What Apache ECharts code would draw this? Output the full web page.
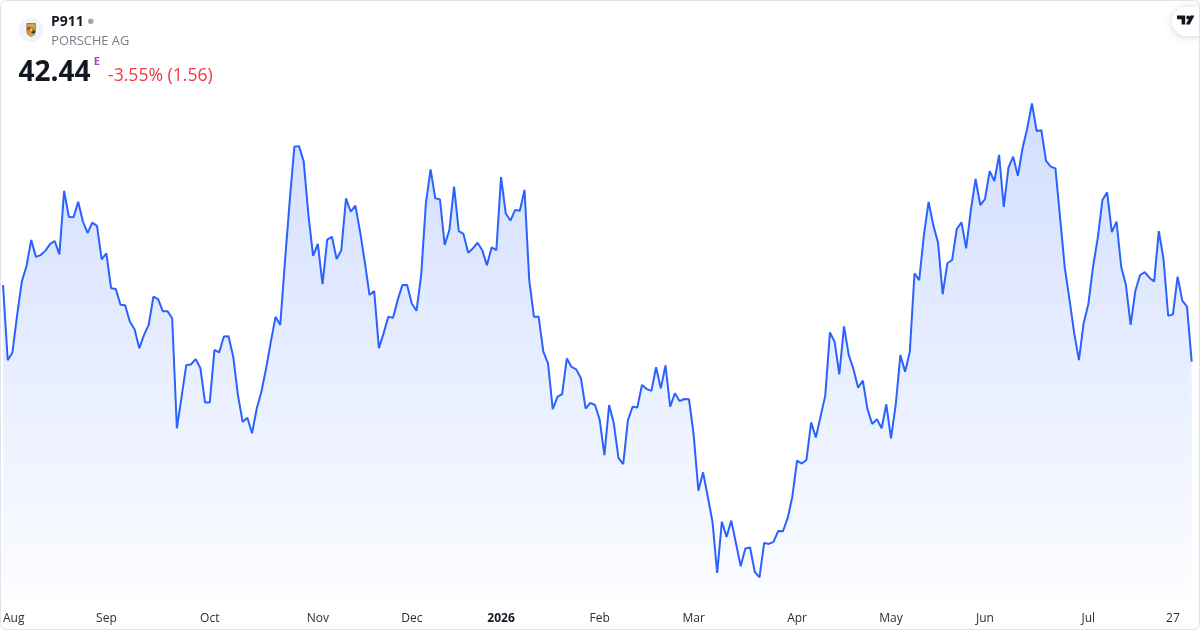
<!DOCTYPE html>
<html>
<head>
<meta charset="utf-8">
<script src="https://cdn.jsdelivr.net/npm/echarts@6/dist/echarts.min.js"></script>
<style>
  html, body { margin: 0; padding: 0; background: #ffffff; }
  #chart { width: 1200px; height: 630px; }
</style>
</head>
<body>
<div id="chart"></div>
<script>
// ---- Data ----
const symbol = 'P911';
const companyName = 'PORSCHE AG';
const lastPrice = '42.44';
const changeText = '-3.55% (1.56)';

// Trading-day calendar (Xetra): weekdays from 2025-07-31 to 2026-07-31 minus exchange holidays
const holidays = ['2025-12-24', '2025-12-25', '2025-12-26', '2025-12-31', '2026-01-01', '2026-04-03', '2026-04-06', '2026-05-01'];

// Tick labels on the time axis
const tickDates = ['2025-08-01', '2025-09-01', '2025-10-01', '2025-11-03', '2025-12-01', '2026-01-02', '2026-02-02', '2026-03-02', '2026-04-01', '2026-05-04', '2026-06-01', '2026-07-01', '2026-07-27'];
const tickTexts = ['Aug', 'Sep', 'Oct', 'Nov', 'Dec', '2026', 'Feb', 'Mar', 'Apr', 'May', 'Jun', 'Jul', '27'];

// Daily closing prices (EUR)
const prices = [
  44.61, 42.48, 42.70, 43.76, 44.71, 45.15, 45.89, 45.41, 45.46, 45.58,
  45.77, 45.86, 45.48, 47.28, 46.55, 46.53, 46.97, 46.41, 46.09, 46.38,
  46.29, 45.34, 45.51, 44.52, 44.50, 44.05, 44.04, 43.57, 43.36, 42.82,
  43.19, 43.48, 44.28, 44.21, 43.87, 43.87, 43.67, 40.55, 41.44, 42.34,
  42.36, 42.51, 42.26, 41.28, 41.28, 42.77, 42.70, 43.15, 43.16, 42.58,
  41.49, 40.73, 40.85, 40.41, 41.11, 41.59, 42.25, 43.00, 43.71, 43.48,
  45.27, 46.97, 48.53, 48.55, 48.11, 46.60, 45.44, 45.78, 44.64, 45.90,
  45.98, 45.35, 45.60, 47.07, 46.69, 46.86, 46.12, 45.27, 44.33, 44.44,
  42.82, 43.24, 43.71, 43.68, 44.19, 44.61, 44.61, 44.09, 43.88, 44.89,
  46.93, 47.89, 47.07, 47.04, 45.75, 46.17, 47.40, 46.14, 46.06, 45.53,
  45.65, 45.81, 45.60, 45.17, 45.68, 45.60, 47.67, 46.64, 46.44, 46.74,
  46.72, 47.31, 44.75, 43.71, 43.71, 42.72, 42.39, 41.09, 41.44, 41.52,
  42.53, 42.29, 42.22, 41.97, 41.11, 41.27, 41.21, 40.79, 39.79, 41.21,
  40.69, 39.70, 39.53, 40.78, 41.16, 41.14, 41.78, 41.66, 41.61, 42.28,
  41.68, 42.33, 41.16, 41.54, 41.32, 41.38, 41.37, 40.36, 38.78, 39.30,
  38.61, 37.90, 36.45, 37.90, 37.47, 37.93, 37.29, 36.64, 37.14, 37.17,
  36.48, 36.32, 37.30, 37.27, 37.33, 37.64, 37.63, 38.00, 38.61, 39.63,
  39.55, 39.65, 40.72, 40.29, 40.88, 41.47, 43.27, 43.00, 42.08, 43.44,
  42.63, 42.23, 41.70, 41.90, 41.09, 40.67, 40.81, 40.55, 41.23, 40.26,
  41.21, 42.63, 42.15, 42.72, 44.94, 44.75, 46.03, 46.97, 46.31, 45.82,
  44.35, 45.23, 45.32, 46.20, 46.39, 45.65, 46.74, 47.62, 46.88, 47.05,
  47.84, 47.56, 48.30, 46.83, 47.94, 48.25, 47.71, 48.49, 49.06, 49.76,
  48.98, 49.00, 48.13, 47.97, 47.92, 46.50, 45.09, 44.19, 43.24, 42.48,
  43.53, 44.07, 45.13, 45.94, 47.02, 47.24, 46.11, 46.41, 45.13, 44.61,
  43.48, 44.44, 44.89, 44.98, 44.82, 44.71, 46.14, 45.35, 43.74, 43.78,
  44.85, 44.17, 44.00, 42.44
];

// ---- Build trading dates (categories) ----
function buildDates() {
  const out = [];
  const d = new Date(Date.UTC(2025, 6, 31));
  const end = Date.UTC(2026, 6, 31);
  while (d.getTime() <= end) {
    const dow = d.getUTCDay();
    const iso = d.toISOString().slice(0, 10);
    if (dow !== 0 && dow !== 6 && holidays.indexOf(iso) === -1) out.push(iso);
    d.setUTCDate(d.getUTCDate() + 1);
  }
  return out;
}
const dates = buildDates();

const FONT = '"Open Sans", "Noto Sans", sans-serif';
const chart = echarts.init(document.getElementById('chart'), null, { renderer: 'canvas' });

const option = {
  backgroundColor: '#ffffff',
  animation: false,
  grid: { left: 2.3, right: 8.3, top: 95, bottom: 30 },
  xAxis: {
    type: 'category',
    data: dates,
    boundaryGap: false,
    axisLine: { show: false },
    axisTick: { show: false },
    splitLine: { show: false },
    axisLabel: {
      margin: 13,
      fontFamily: FONT,
      fontSize: 12,
      color: '#2a2e39',
      interval: function (index, value) { return tickDates.indexOf(value) !== -1; },
      formatter: function (value) {
        const k = tickDates.indexOf(value);
        const t = tickTexts[k];
        if (t === '2026') return '{b|' + t + '}';
        if (k === 0) return '{first|' + t + '}';
        return t;
      },
      rich: {
        b: { fontFamily: FONT, fontSize: 12, fontWeight: 'bold', color: '#131722' },
        first: { fontFamily: FONT, fontSize: 12, color: '#2a2e39', padding: [0, 0, 0, 12] }
      }
    }
  },
  yAxis: {
    type: 'value',
    show: false,
    min: 35.68,
    max: 50,
    splitLine: { show: false }
  },
  series: [{
    type: 'line',
    data: prices,
    showSymbol: false,
    symbol: 'none',
    lineStyle: { color: '#2962FF', width: 2 },
    itemStyle: { color: '#2962FF' },
    areaStyle: {
      color: new echarts.graphic.LinearGradient(0, 0, 0, 1, [
        { offset: 0, color: 'rgba(41, 98, 255, 0.30)' },
        { offset: 1, color: 'rgba(41, 98, 255, 0.02)' }
      ])
    }
  }],
  graphic: [
    // outer frame
    { type: 'rect', silent: true, z: 100,
      shape: { x: 0.5, y: 0.5, width: 1199, height: 629, r: 6 },
      style: { fill: 'none', stroke: '#e0e3eb', lineWidth: 1 } },
    // logo circle
    { type: 'circle', shape: { cx: 31, cy: 30, r: 12 }, style: { fill: '#f0f3fa' } },
    // crest (simplified shield)
    { type: 'polygon', shape: { points: [[26.8, 23.5], [35.4, 23.5], [35.4, 31], [34.6, 34.2], [31.1, 36.6], [27.6, 34.2], [26.8, 31]] },
      style: { fill: '#d4a63c', stroke: '#6b4a1a', lineWidth: 0.6 } },
    { type: 'rect', shape: { x: 27.4, y: 27.3, width: 3.4, height: 2.6 }, style: { fill: '#b8312f' } },
    { type: 'rect', shape: { x: 31.6, y: 30.4, width: 3.2, height: 2.8 }, style: { fill: '#2b2b2b' } },
    { type: 'rect', shape: { x: 29.4, y: 28.2, width: 3.4, height: 3.6 }, style: { fill: '#e9c25a', stroke: '#5a3a12', lineWidth: 0.4 } },
    // header texts
    { type: 'text', x: 51, y: 22, style: { text: symbol, font: 'bold 14px ' + FONT, fill: '#131722', verticalAlign: 'middle' } },
    { type: 'circle', shape: { cx: 90.8, cy: 21.3, r: 2.8 }, style: { fill: '#a3a6af' } },
    { type: 'text', x: 51.3, y: 41.5, style: { text: companyName, font: '12.8px ' + FONT, fill: '#787b86', verticalAlign: 'middle' } },
    { type: 'text', x: 18.5, y: 73, style: { text: lastPrice, font: 'bold 28px ' + FONT, fill: '#131722', verticalAlign: 'middle' } },
    { type: 'text', x: 93.8, y: 62, style: { text: 'E', font: 'bold 11px ' + FONT, fill: '#a742c0', verticalAlign: 'middle' } },
    { type: 'text', x: 108, y: 75.5, style: { text: changeText, font: '17.6px ' + FONT, fill: '#f23645', verticalAlign: 'middle' } },
    // TradingView badge
    { type: 'rect', shape: { x: 1172, y: 7, width: 44, height: 29, r: 14.5 },
      style: { fill: '#ffffff', shadowBlur: 8, shadowColor: 'rgba(0,0,0,0.16)', shadowOffsetY: 1 } },
    { type: 'polygon', shape: { points: [[1177, 15.6], [1185.2, 15.6], [1185.2, 24.6], [1181.6, 24.6], [1181.6, 19.2], [1177, 19.2]] },
      style: { fill: '#131722' } },
    { type: 'circle', shape: { cx: 1188.2, cy: 17.4, r: 1.9 }, style: { fill: '#131722' } },
    { type: 'polygon', shape: { points: [[1190.4, 15.6], [1194.4, 15.6], [1189.8, 24.6], [1185.9, 24.6]] },
      style: { fill: '#131722' } }
  ]
};

chart.setOption(option);
</script>
</body>
</html>
